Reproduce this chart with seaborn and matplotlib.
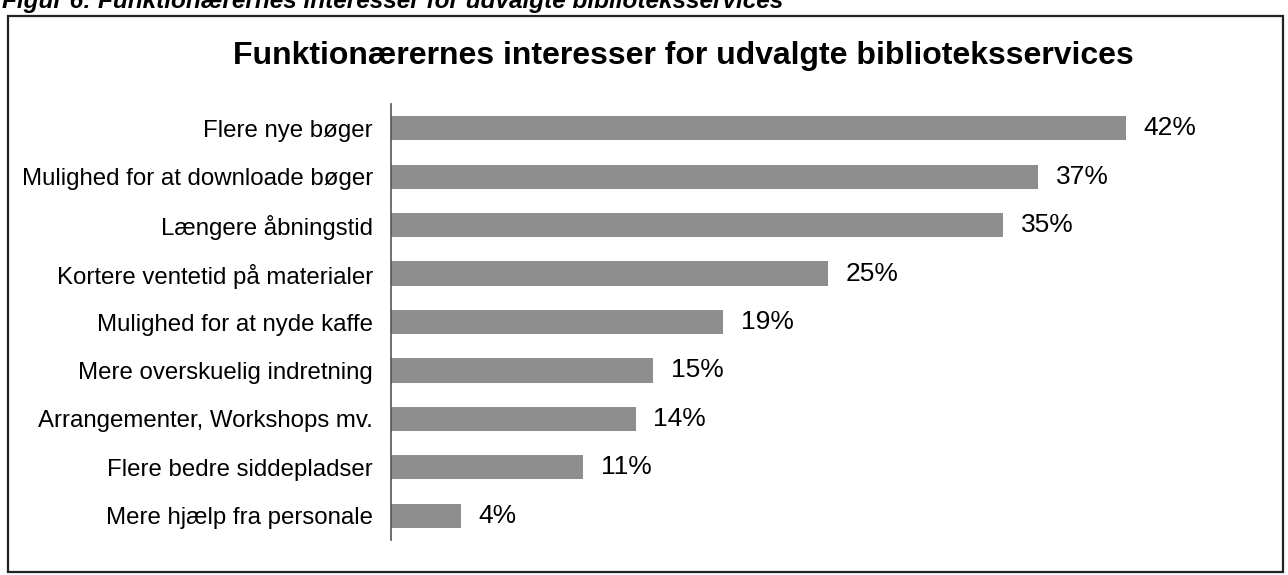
import numpy as np
import pandas as pd
import seaborn as sns
import matplotlib.pyplot as plt
from matplotlib.patches import Rectangle

categories = ['Flere nye bøger', 'Mulighed for at downloade bøger', 'Længere åbningstid',
              'Kortere ventetid på materialer', 'Mulighed for at nyde kaffe',
              'Mere overskuelig indretning', 'Arrangementer, Workshops mv.',
              'Flere bedre siddepladser', 'Mere hjælp fra personale']
values = [42, 37, 35, 25, 19, 15, 14, 11, 4]

title = 'Funktionærernes interesser for udvalgte biblioteksservices'
caption = 'Figur 6: Funktionærernes interesser for udvalgte biblioteksservices'

df = pd.DataFrame({'service': categories, 'pct': values})

sns.set_theme(style='white')
plt.rcParams['font.family'] = ['Liberation Sans', 'DejaVu Sans']

fig = plt.figure(figsize=(12.88, 5.75), dpi=100)
W, H = 1288, 575
# axes placed in pixel terms: left 391, right 1283, top 104, bottom 540
ax = fig.add_axes([391 / W, 1 - 540 / H, (1283 - 391) / W, (540 - 104) / H])

sns.barplot(data=df, y='service', x='pct', color='#8e8e8e', saturation=1,
            width=0.5, ax=ax, edgecolor='none')

ax.set_xlim(0, 51)
ax.set_ylim(len(categories) - 0.5, -0.5)
for i, v in enumerate(values):
    ax.text(v + 1.0, i, f'{v}%', va='center', ha='left', fontsize=19, color='black')

ax.set_xlabel('')
ax.set_ylabel('')
ax.set_xticks([])
ax.tick_params(axis='y', length=0, pad=13, labelsize=17.3, labelcolor='black')
for s in ['top', 'right', 'bottom']:
    ax.spines[s].set_visible(False)
ax.spines['left'].set_color('#555555')
ax.spines['left'].set_linewidth(1.2)

fig.text(683 / W, 1 - 56 / H, title, ha='center', va='center',
         fontsize=23, fontweight='bold', color='black')
# figure caption, cut off at the top edge as in the scan
fig.text(2 / W, 1 - 8 / H, caption, ha='left', va='baseline',
         fontsize=17.6, fontweight='bold', fontstyle='italic', color='black')

fig.add_artist(Rectangle((8 / W, 1 - 572 / H), (1283 - 8) / W, (572 - 16) / H,
                         transform=fig.transFigure, fill=False,
                         edgecolor='#222222', linewidth=1.6))

fig.savefig('out.png', dpi=100)
